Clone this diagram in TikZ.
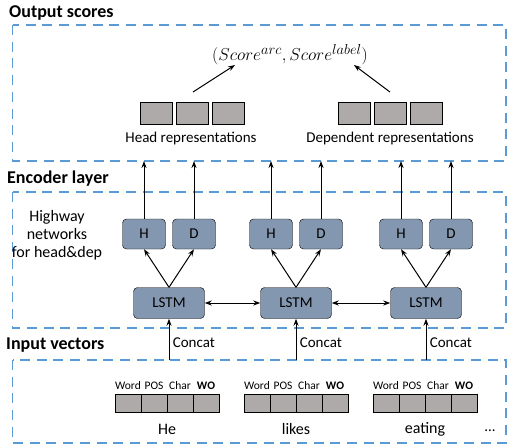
\documentclass[tikz,border=0pt]{standalone}
\usepackage{fontspec}
\setmainfont{Carlito}
\usetikzlibrary{arrows.meta, positioning}

\definecolor{dashblue}{HTML}{5B9BD5}
\definecolor{cellgray}{HTML}{AEAAAA}
\definecolor{boxblue}{HTML}{8497B0}

\begin{document}
\begin{tikzpicture}[
    x=1pt, y=-1pt,
    layer/.style={draw=dashblue, line width=1.8pt, dash pattern=on 10pt off 6.7pt},
    title/.style={anchor=west, inner sep=0pt, font=\fontsize{18}{20}\selectfont\bfseries},
    lbl/.style={font=\fontsize{15}{17}\selectfont},
    cell/.style={rectangle, draw=black, fill=cellgray, minimum width=32pt, minimum height=22pt, inner sep=0pt},
    incell/.style={cell, minimum width=26pt, minimum height=18pt},
    unit/.style={rectangle, rounded corners=4pt, draw=black, fill=boxblue, minimum width=43pt, minimum height=30pt, inner sep=0pt, font=\fontsize{15}{17}\selectfont},
    lstmbox/.style={unit, minimum width=71pt, minimum height=31pt},
    arr/.style={-{Stealth[length=7pt,width=5pt]}, line width=1pt},
    biarr/.style={{Stealth[length=7pt,width=5pt]}-{Stealth[length=7pt,width=5pt]}, line width=1pt}
  ]
  \useasboundingbox (0,0) rectangle (507,445);

  % layers
  \draw[layer] (12.5,25) rectangle (506,161);
  \draw[layer] (12.5,192) rectangle (506,328);
  \draw[layer] (12.5,360) rectangle (506,443);
  \node[title] (outtitle) at (9,13) {Output scores};
  \node[title] (enctitle) at (7,179) {Encoder layer};
  \node[title] (intitle) at (6,345) {Input vectors};
  \coordinate (outbottom) at (0,161);
  \coordinate (intop) at (0,360);

  % output scores
  \node (score) at (290,55) {\fontsize{19}{21}\selectfont$(Score^{arc},Score^{label})$};
  \foreach \j/\x in {1/156, 2/192, 3/228} \node[cell] (head\j) at (\x,113) {};
  \foreach \j/\x in {1/354, 2/390, 3/426} \node[cell] (dep\j) at (\x,113) {};
  \node[lbl] (headlbl) at (191,138) {Head representations};
  \node[lbl] (deplbl) at (390,138) {Dependent representations};
  \coordinate (headfoot) at (193,92);
  \coordinate (headtip) at (235,65);
  \coordinate (depfoot) at (390,92);
  \coordinate (deptip) at (354,65);
  \draw[arr] (headfoot) -- (headtip);
  \draw[arr] (depfoot) -- (deptip);

  % encoder
  \node[align=center, font=\fontsize{16}{18}\selectfont] (highway) at (57,235) {Highway\\networks\\for head\&dep};
  \foreach \i/\x in {1/169, 2/296, 3/426} {
    \node[lstmbox] (lstm\i) at (\x,303) {LSTM};
    \node[unit] (H\i) at (\x-25,234) {H};
    \node[unit] (D\i) at (\x+25,234) {D};
    \draw[arr] (lstm\i.north) -- (H\i.south);
    \draw[arr] (lstm\i.north) -- (D\i.south);
    \draw[arr] (H\i.north) -- (H\i.north |- outbottom);
    \draw[arr] (D\i.north) -- (D\i.north |- outbottom);
    \draw[arr] (lstm\i.south |- intop) -- (lstm\i.south)
      node[lbl, pos=0.42, right] {Concat};
  }
  \draw[biarr] (lstm1.east) -- (lstm2.west);
  \draw[biarr] (lstm2.east) -- (lstm3.west);

  % input vectors
  \foreach \i/\x/\w in {1/128/He, 2/257/likes, 3/386/eating} {
    \foreach \j/\t in {0/Word, 1/POS, 2/Char, 3/\textbf{WO}} {
      \node[incell] (in\i\j) at (\x+26*\j,403) {};
      \node[above=1pt of in\i\j, font=\fontsize{11.5}{13}\selectfont] (tag\i\j) {\t};
    }
    \node[font=\fontsize{16}{18}\selectfont] (word\i) at (\x+39,429) {\w};
  }
  \node[lbl] (dots) at (490,431) {...};
\end{tikzpicture}
\end{document}
